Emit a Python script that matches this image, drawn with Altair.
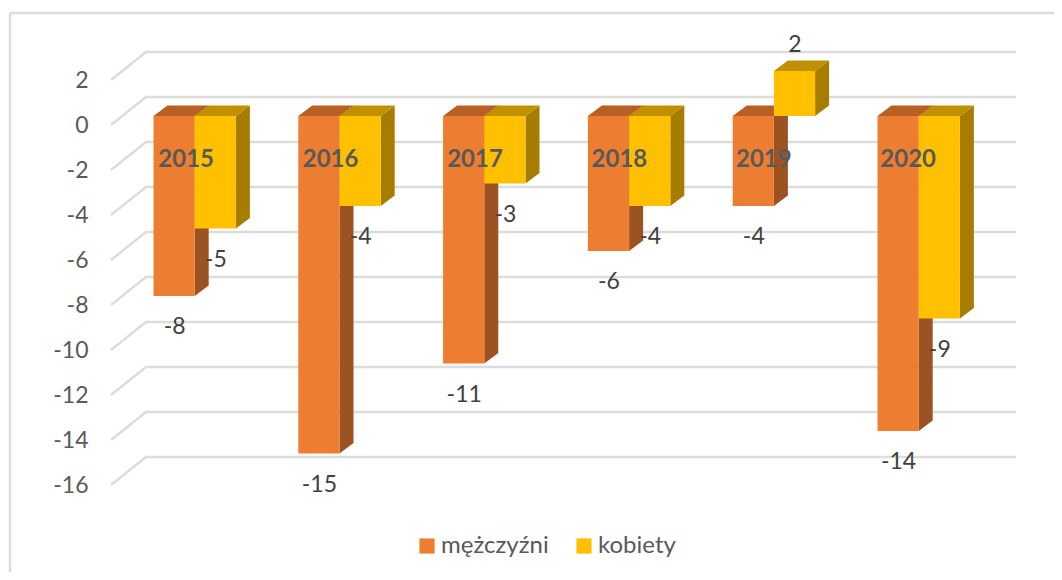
import altair as alt
import pandas as pd

years = ["2015", "2016", "2017", "2018", "2019", "2020"]
men = [-8, -15, -11, -6, -4, -14]
women = [-5, -4, -3, -4, 2, -9]
ticks = [2, 0, -2, -4, -6, -8, -10, -12, -14, -16]
series_names = ["mężczyźni", "kobiety"]

W, H = 1046, 564
FONT = "Lato"
PX = 22.5                 # pixels per unit
ZERO = 108                # plot-y of the front-plane zero
DX, DY = 14, 10.5 / PX    # depth of the 3D extrusion
BAR = 41.2
STEP = 144.8
X0 = 145.5                # left edge of first bar, in plot pixels
TEXT = "#595959"
LABEL = "#404040"
GRID = "#dcdcdc"

x = alt.X("x:Q", scale=alt.Scale(domain=[0, W], range=[0, W], nice=False, zero=False), axis=None)
yscale = alt.Scale(domain=[(ZERO - H) / PX, ZERO / PX], range=[H, 0], nice=False, zero=False)
yaxis = alt.Axis(values=ticks, labelExpr="'' + datum.value", domain=False, ticks=False, grid=False,
                 title=None, labelOffset=9, offset=-88, labelPadding=8, labelFontSize=23,
                 labelColor=TEXT, labelFont=FONT, labelFlush=False, labelOverlap=False)
yenc = alt.Y("y:Q", scale=yscale, axis=yaxis)

bars, sides, tops, labels = [], [], [], []
for s, vals in enumerate([men, women]):
    for i, v in enumerate(vals):
        left = X0 + STEP * i + BAR * s
        right = left + BAR
        top = max(v, 0)
        bot = min(v, 0)
        bars.append(dict(x=left, x2=right, y=top, y2=bot, series=series_names[s]))
        bid = f"{s}-{i}"
        for k in (0, 1):
            sides.append(dict(x=right + k * DX, y=top + k * DY, y2=bot + k * DY, s=s, id=bid))
            tops.append(dict(x=left + k * DX, x2=right + k * DX, y=top + k * DY, s=s, id=bid))
        ly = v - 31 / PX if v < 0 else v + 26 / PX
        labels.append(dict(x=(left + right) / 2 + 0.5, y=ly, t=str(v)))

grid = []
for t in ticks:
    grid.append(dict(x=103, y=t - 9 / PX, t=t, o=0))
    grid.append(dict(x=138, y=t + 19 / PX, t=t, o=1))
    grid.append(dict(x=1008, y=t + 19 / PX, t=t, o=2))

yrs = [dict(x=X0 + 144.4 * i + BAR - 8.5, year=y) for i, y in enumerate(years)]

df_b, df_s, df_t, df_l, df_g, df_y = map(pd.DataFrame, [bars, sides, tops, labels, grid, yrs])

border_left = alt.Chart(pd.DataFrame({"a": [0]})).mark_rule(color=GRID, strokeWidth=2.5).encode(
    x=alt.value(2), y=alt.value(5), y2=alt.value(H))
border_top = alt.Chart(pd.DataFrame({"a": [0]})).mark_rule(color=GRID, strokeWidth=2.5).encode(
    y=alt.value(5), x=alt.value(2), x2=alt.value(W))

grid_l = alt.Chart(df_g).mark_line(color=GRID, strokeWidth=2.4).encode(
    x=x, y=yenc, detail="t:N", order="o:Q")


def side(s, color):
    return alt.Chart(df_s[df_s.s == s]).mark_area(color=color, orient="vertical").encode(
        x=x, y=yenc, y2="y2:Q", detail="id:N")


def topf(s, color):
    return alt.Chart(df_t[df_t.s == s]).mark_area(color=color, orient="horizontal").encode(
        y=yenc, x=x, x2="x2:Q", detail="id:N")


fronts = alt.Chart(df_b).mark_bar(stroke=None).encode(
    x=x, x2="x2:Q",
    y=yenc,
    y2="y2:Q",
    color=alt.Color("series:N",
                    scale=alt.Scale(domain=series_names, range=["#ED7D31", "#FFC000"]),
                    legend=alt.Legend(orient="none", legendX=407, legendY=526, direction="horizontal",
                                      title=None, symbolType="square", symbolSize=230,
                                      symbolStrokeWidth=0, labelFontSize=24, labelColor=TEXT,
                                      labelFont=FONT, columnPadding=23, labelOffset=2)),
)

label_t = alt.Chart(df_l).mark_text(font=FONT, fontSize=23, color=LABEL, baseline="middle", align="center").encode(
    x=x, y=yenc, text="t:N")
year_t = alt.Chart(df_y).mark_text(font=FONT, fontSize=24, fontWeight="bold", color=TEXT,
                                   baseline="middle", align="center").encode(
    x=x, y=alt.value(152), text="year:N")

chart = alt.layer(
    border_left, border_top, grid_l,
    side(0, "#9C5221"), topf(0, "#B85F23"),
    side(1, "#A67D00"), topf(1, "#BF9000"),
    fronts, year_t, label_t,
).properties(width=W, height=H, padding=0, autosize=alt.AutoSizeParams(type="none")).configure_view(stroke=None)

chart.save("out.html", embed_options={"renderer": "svg", "actions": False})
